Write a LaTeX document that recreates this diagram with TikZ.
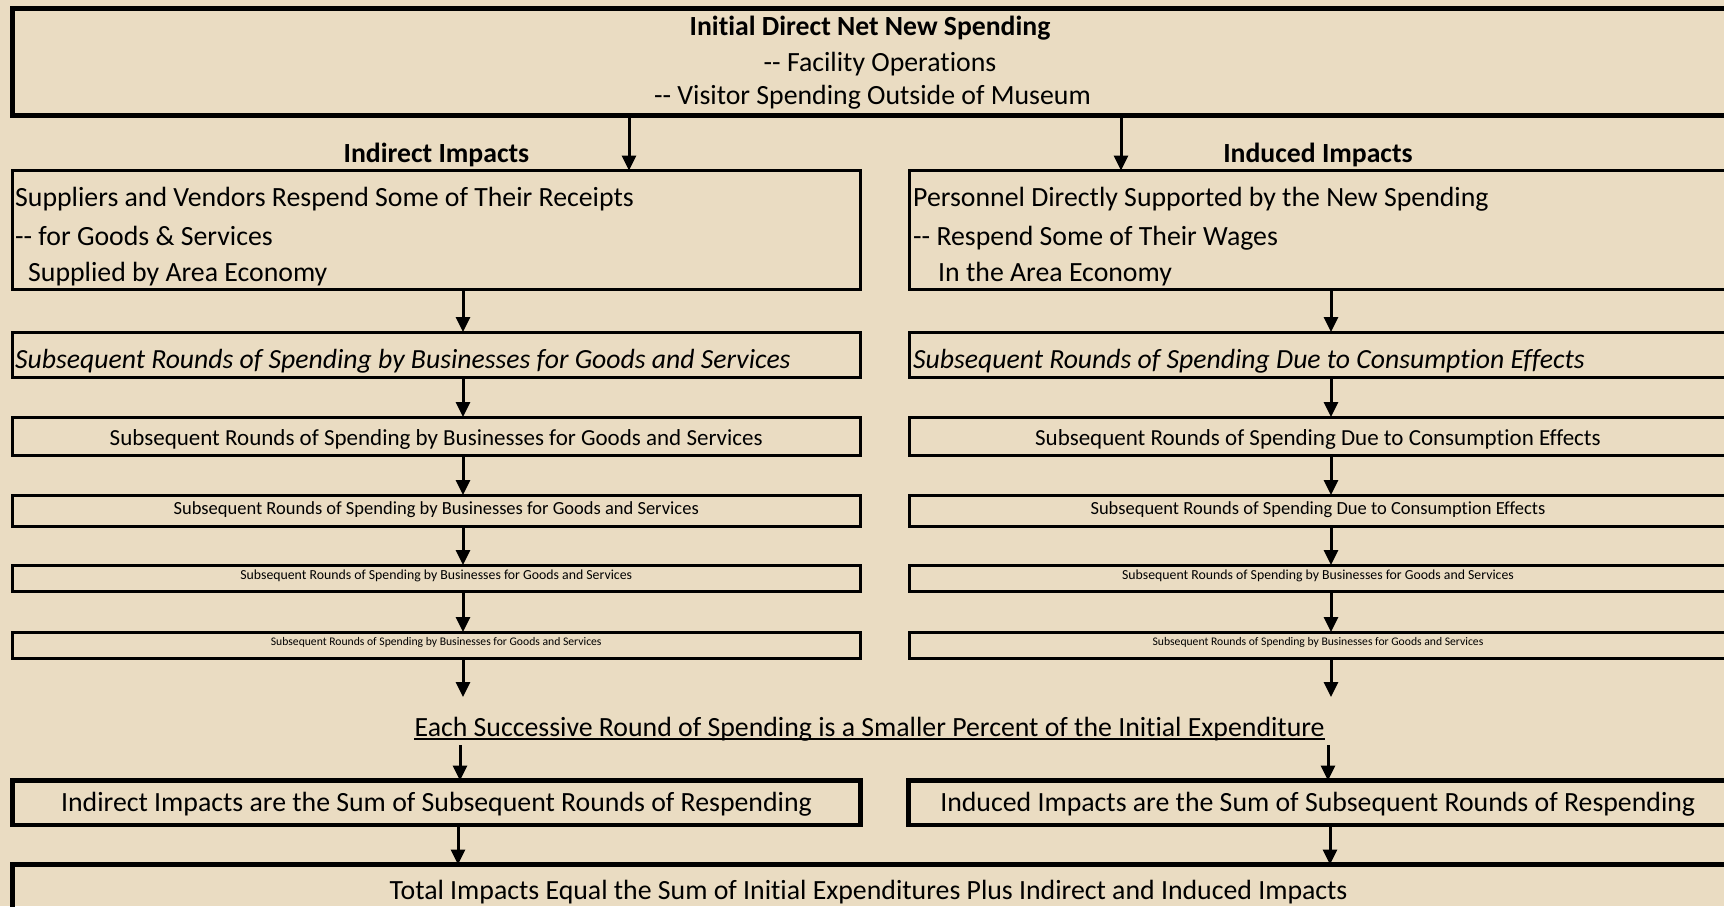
\documentclass[tikz,border=0pt]{standalone}
\usepackage{fontspec}
\setmainfont{Carlito}[Ligatures=NoCommon]
\usetikzlibrary{arrows.meta}
\definecolor{paper}{RGB}{234,220,194}
\newcommand{\fsz}[1]{\fontsize{#1}{#1}\selectfont}
\newcommand{\dbldash}{\mbox{-}\mbox{-}}

\begin{document}
\begin{tikzpicture}[x=1pt,y=-1pt,
  box/.style={draw, line width=3pt, anchor=north west, inner sep=0pt, outer sep=0pt},
  heavy/.style={box, line width=4.5pt},
  txt/.style={inner sep=0pt, anchor=base},
  ltxt/.style={inner sep=0pt, anchor=base west},
  link/.style={line width=3pt, -{Triangle[length=15pt,width=14pt]}}]

\useasboundingbox (0,0) rectangle (1724,906);
\fill[paper] (0,0) rectangle (1724,906);
\clip (0,0) rectangle (1724,906);

% arrow columns
\coordinate (cL) at (463,0);
\coordinate (cR) at (1331,0);

% initial spending box
\node[box, line width=5pt, minimum width=1718pt, minimum height=107pt] (top) at (12.5,8.5) {};
\node[txt, font=\bfseries\fsz{27.7}] (top1) at (870,35) {Initial Direct Net New Spending};
\node[txt, font=\fsz{27.8}] (top2) at (880,71.3) {\dbldash{} Facility Operations};
\node[txt, font=\fsz{27.8}] (top3) at (872.5,104.3) {\dbldash{} Visitor Spending Outside of Museum};

% column headings
\node[txt, font=\bfseries\fsz{27.7}] (hL) at (436.5,162.3) {Indirect Impacts};
\node[txt, font=\bfseries\fsz{27.7}] (hR) at (1318,162.3) {Induced Impacts};

% first respending boxes
\node[box, minimum width=847.5pt, minimum height=118.5pt] (L2) at (12.5,170.5) {};
\node[box, minimum width=818pt, minimum height=118.5pt] (R2) at (909,170.5) {};
\node[ltxt, font=\fsz{27.8}] (L2a) at (15,206) {Suppliers and Vendors Respend Some of Their Receipts};
\node[ltxt, font=\fsz{27.8}] (L2b) at (15,245.7) {\dbldash{} for Goods \& Services};
\node[ltxt, font=\fsz{27.8}] (L2c) at (28,281.7) {Supplied by Area Economy};
\node[ltxt, font=\fsz{27.8}] (R2a) at (913,206) {Personnel Directly Supported by the New Spending};
\node[ltxt, font=\fsz{27.8}] (R2b) at (913,245.7) {\dbldash{} Respend Some of Their Wages};
\node[ltxt, font=\fsz{27.8}] (R2c) at (938,281.7) {In the Area Economy};

% subsequent rounds, shrinking
\node[box, minimum width=847.5pt, minimum height=45pt] (L3) at (12.5,332) {};
\node[box, minimum width=818pt, minimum height=45pt] (R3) at (909,332) {};
\node[ltxt, font=\itshape\fsz{27.7}] (L3t) at (15,368.3) {Subsequent Rounds of Spending by Businesses for Goods and Services};
\node[ltxt, font=\itshape\fsz{27.7}] (R3t) at (913,368.3) {Subsequent Rounds of Spending Due to Consumption Effects};

\begin{scope}[every node/.append style={text height=21pt, text depth=1.4pt, font=\fsz{23}}]
\node[box, minimum width=847.5pt, minimum height=38pt] (L4) at (12.5,417) {Subsequent Rounds of Spending by Businesses for Goods and Services};
\node[box, minimum width=818pt, minimum height=38pt] (R4) at (909,417) {Subsequent Rounds of Spending Due to Consumption Effects};
\end{scope}

\begin{scope}[every node/.append style={text height=13pt, text depth=4.4pt, font=\fsz{18.5}}]
\node[box, minimum width=847.5pt, minimum height=31pt] (L5) at (12.5,495) {Subsequent Rounds of Spending by Businesses for Goods and Services};
\node[box, minimum width=818pt, minimum height=31pt] (R5) at (909,495) {Subsequent Rounds of Spending Due to Consumption Effects};
\end{scope}

\begin{scope}[every node/.append style={text height=8.3pt, text depth=6.2pt, font=\fsz{13.8}}]
\node[box, minimum width=847.5pt, minimum height=26.5pt] (L6) at (12.5,565) {Subsequent Rounds of Spending by Businesses for Goods and Services};
\node[box, minimum width=818pt, minimum height=26.5pt] (R6) at (909,565) {Subsequent Rounds of Spending by Businesses for Goods and Services};
\end{scope}

\begin{scope}[every node/.append style={text height=7pt, text depth=6.4pt, font=\fsz{11.65}}]
\node[box, minimum width=847.5pt, minimum height=26pt] (L7) at (12.5,632) {Subsequent Rounds of Spending by Businesses for Goods and Services};
\node[box, minimum width=818pt, minimum height=26pt] (R7) at (909,632) {Subsequent Rounds of Spending by Businesses for Goods and Services};
\end{scope}

% summary line
\node[txt, font=\fsz{27.8}] (each) at (869.7,736) {Each Successive Round of Spending is a Smaller Percent of the Initial Expenditure};
\draw[line width=1.8pt] ([yshift=-3.3pt]each.base west) -- ([yshift=-3.3pt]each.base east);
\coordinate (eL1) at (463,697);
\coordinate (eR1) at (1331,697);
\coordinate (eL2) at (460,745);
\coordinate (eR2) at (1328,745);

% sums
\begin{scope}[every node/.append style={text height=22.3pt, text depth=4.8pt, font=\fsz{27.8}}]
\node[heavy, minimum width=848pt, minimum height=44.5pt] (L8) at (12.5,780.5) {Indirect Impacts are the Sum of Subsequent Rounds of Respending};
\node[heavy, minimum width=818.5pt, minimum height=44.5pt] (R8) at (908.5,780.5) {Induced Impacts are the Sum of Subsequent Rounds of Respending};
\end{scope}

% total
\node[heavy, minimum width=1718pt, minimum height=60pt] (tot) at (12.5,864.5) {};
\node[txt, font=\fsz{27.8}] (tott) at (868.6,899.5) {Total Impacts Equal the Sum of Initial Expenditures Plus Indirect and Induced Impacts};

% connectors
\draw[link] (top.south -| 629,0) -- (L2.north -| 629,0);
\draw[link] (top.south -| 1121,0) -- (R2.north -| 1121,0);
\draw[link] (L2.south -| cL) -- (L3.north -| cL);
\draw[link] (R2.south -| cR) -- (R3.north -| cR);
\draw[link] (L3.south -| cL) -- (L4.north -| cL);
\draw[link] (R3.south -| cR) -- (R4.north -| cR);
\draw[link] (L4.south -| cL) -- (L5.north -| cL);
\draw[link] (R4.south -| cR) -- (R5.north -| cR);
\draw[link] (L5.south -| cL) -- (L6.north -| cL);
\draw[link] (R5.south -| cR) -- (R6.north -| cR);
\draw[link] (L6.south -| cL) -- (L7.north -| cL);
\draw[link] (R6.south -| cR) -- (R7.north -| cR);
\draw[link] (L7.south -| cL) -- (eL1);
\draw[link] (R7.south -| cR) -- (eR1);
\draw[link] (eL2) -- (L8.north -| eL2);
\draw[link] (eR2) -- (R8.north -| eR2);
\draw[link] (L8.south -| 458,0) -- (tot.north -| 458,0);
\draw[link] (R8.south -| 1330,0) -- (tot.north -| 1330,0);
\end{tikzpicture}
\end{document}
